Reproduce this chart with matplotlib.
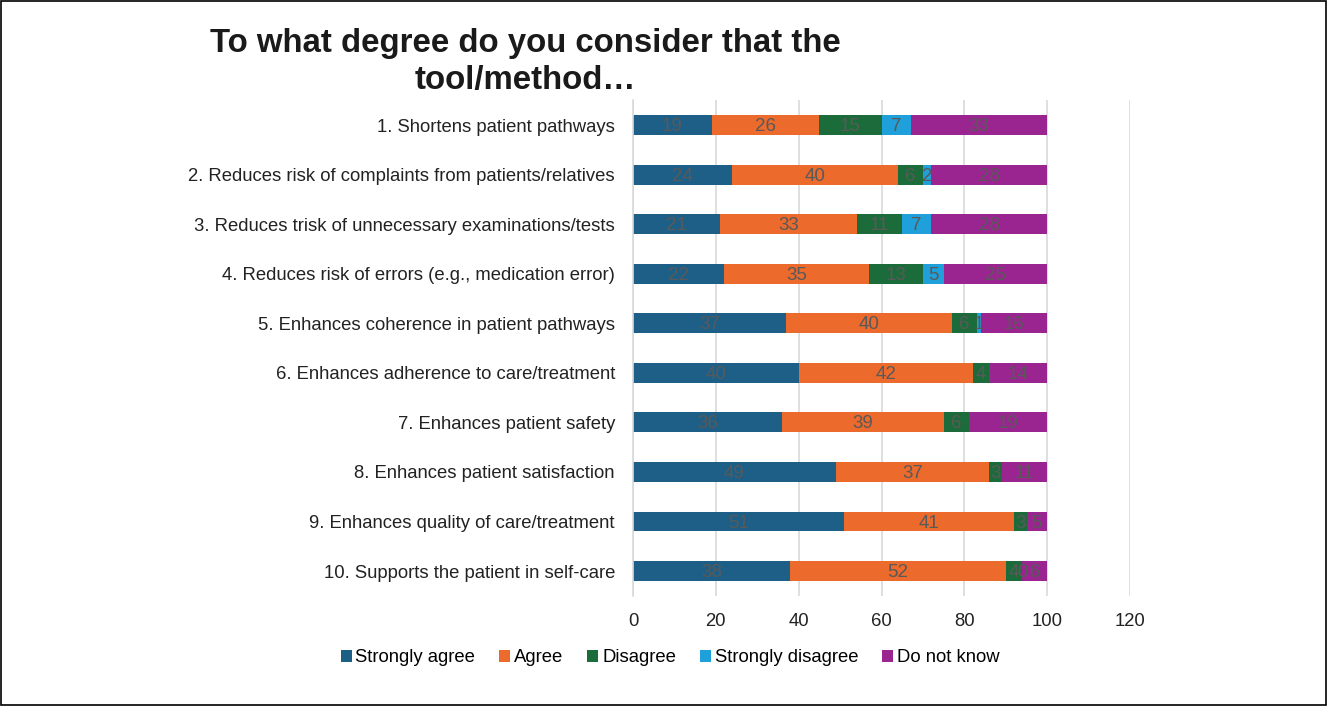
import numpy as np
import matplotlib.pyplot as plt
from matplotlib.patches import Rectangle

plt.rcParams['font.family'] = ['Liberation Sans', 'DejaVu Sans']

categories = [
    '1. Shortens patient pathways',
    '2. Reduces risk of complaints from patients/relatives',
    '3. Reduces trisk of unnecessary examinations/tests',
    '4. Reduces risk of errors (e.g., medication error)',
    '5. Enhances coherence in patient pathways',
    '6. Enhances adherence to care/treatment',
    '7. Enhances patient safety',
    '8. Enhances patient satisfaction',
    '9. Enhances quality of care/treatment',
    '10. Supports the patient in self-care',
]
strongly_agree = [19, 24, 21, 22, 37, 40, 36, 49, 51, 38]
agree = [26, 40, 33, 35, 40, 42, 39, 37, 41, 52]
disagree = [15, 6, 11, 13, 6, 4, 6, 3, 3, 4]
strongly_disagree = [7, 2, 7, 5, 1, np.nan, np.nan, np.nan, np.nan, 0]
do_not_know = [33, 28, 28, 25, 16, 14, 19, 11, 5, 6]

series = [
    ('Strongly agree', strongly_agree, '#1d5f86'),
    ('Agree', agree, '#ec6a2b'),
    ('Disagree', disagree, '#1b6c3a'),
    ('Strongly disagree', strongly_disagree, '#20a0da'),
    ('Do not know', do_not_know, '#9a2490'),
]

fig = plt.figure(figsize=(13.27, 7.06), dpi=100)
ax = fig.add_axes([0.477, 0.156, 0.3746, 0.702])

y = np.arange(len(categories))
left = np.zeros(len(categories))
for name, vals, col in series:
    v = np.array(vals, dtype=float)
    w = np.nan_to_num(v)
    ax.barh(y, w, left=left, height=0.4, color=col, label=name, zorder=2)
    for i, val in enumerate(v):
        if not np.isnan(val):
            ax.text(left[i] + w[i] / 2, y[i] + 0.03, f'{int(val)}', ha='center', va='center',
                    fontsize=13.5, color='#595959', zorder=3)
    left += w

ax.set_xlim(0, 120)
ax.set_ylim(len(categories) - 0.5, -0.5)
ax.set_xticks(range(0, 121, 20))
ax.set_yticks(y)
ax.set_yticklabels(categories, fontsize=13.3, color='#222222')
ax.tick_params(axis='x', labelsize=13.3, colors='#222222', length=0, pad=12)
ax.tick_params(axis='y', length=0, pad=13)
ax.grid(axis='x', color='#d9d9d9', linewidth=1.2, zorder=0)
for s in ['top', 'right', 'bottom']:
    ax.spines[s].set_visible(False)
ax.spines['left'].set_color('#d9d9d9')
ax.spines['left'].set_linewidth(1.2)

fig.text(0.396, 0.912, 'To what degree do you consider that the\ntool/method\u2026',
         ha='center', va='center', fontsize=23.8, fontweight='bold',
         color='#1a1a1a', linespacing=1.25)

fig.legend(loc='center', bbox_to_anchor=(0.505, 0.068), ncol=5, frameon=False,
           fontsize=13.3, handlelength=0.6, handleheight=0.6, handletextpad=0.2,
           columnspacing=1.3)

fig.add_artist(Rectangle((0.001, 0.001), 0.998, 0.998, transform=fig.transFigure,
                         fill=False, edgecolor='black', linewidth=1.2))

fig.savefig('out.png', dpi=100)
